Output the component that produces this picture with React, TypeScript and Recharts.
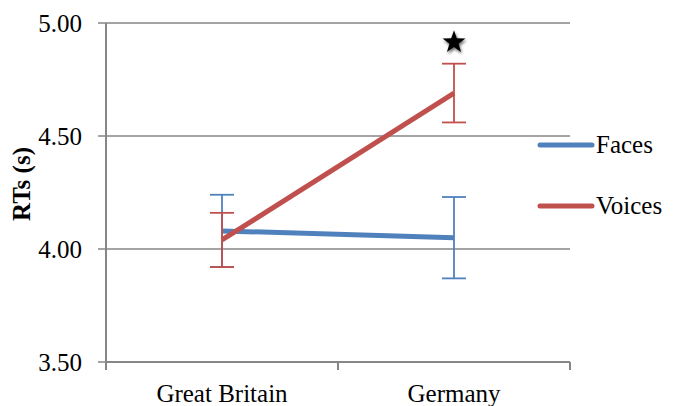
import { CartesianGrid, ErrorBar, Legend, Line, LineChart, ReferenceDot, XAxis, YAxis } from "recharts";

const categories = ["Great Britain", "Germany"];
const faces = [4.08, 4.05];
const facesErr = [0.16, 0.18];
const voices = [4.04, 4.69];
const voicesErr = [0.12, 0.13];
const yTicks = [3.5, 4.0, 4.5, 5.0];
const xTicks = [0, 0.5, 1, 1.5, 2];
const starAt = { x: 1.5, y: 4.915 };

const BLUE = "#4F81BD";
const RED = "#C0504D";
const AXIS = "#868686";
const FONT = "Liberation Serif, Tinos, DejaVu Serif, Times New Roman, serif";

const data = categories.map((name, i) => ({
  x: i + 0.5,
  name,
  faces: faces[i],
  facesErr: facesErr[i],
  voices: voices[i],
  voicesErr: voicesErr[i],
}));

// ticks at 0,1,2 are the category boundaries, 0.5/1.5 carry the labels
function XTick(props: any) {
  const { x, y, payload } = props;
  const v = payload.value;
  if (Number.isInteger(v)) {
    return <line x1={x} x2={x} y1={y} y2={y + 8} stroke={AXIS} strokeWidth={2} />;
  }
  const idx = Math.floor(v);
  return (
    <text x={x} y={y + 40} textAnchor="middle" fontFamily={FONT} fontSize={25} fill="#000">
      {categories[idx]}
    </text>
  );
}

function Star(props: any) {
  const { cx, cy } = props;
  const R = 12;
  const r = 4.8;
  const pts: string[] = [];
  for (let i = 0; i < 10; i++) {
    const a = -Math.PI / 2 + (i * Math.PI) / 5;
    const rr = i % 2 === 0 ? R : r;
    pts.push(`${cx + rr * Math.cos(a)},${cy + rr * Math.sin(a)}`);
  }
  return (
    <g>
      <defs>
        <filter id="starBlur" x="-50%" y="-50%" width="200%" height="200%">
          <feGaussianBlur stdDeviation="1.8" />
        </filter>
      </defs>
      <polygon points={pts.join(" ")} fill="#000" opacity={0.6} filter="url(#starBlur)" transform="translate(1,2)" />
      <polygon points={pts.join(" ")} fill="#000" />
    </g>
  );
}

function LegendBox() {
  const items = [
    { label: "Faces", color: BLUE },
    { label: "Voices", color: RED },
  ];
  return (
    <div>
      {items.map((it) => (
        <div key={it.label} style={{ display: "flex", alignItems: "center", height: 61 }}>
          <svg width={60} height={10}>
            <line x1={4} x2={56} y1={5} y2={5} stroke={it.color} strokeWidth={5} strokeLinecap="round" />
          </svg>
          <span style={{ fontFamily: FONT, fontSize: 25, color: "#000" }}>{it.label}</span>
        </div>
      ))}
    </div>
  );
}

export default function App() {
  return (
    <div style={{ width: 673, height: 406, fontFamily: FONT }}>
      <style>{"body{margin:0}"}</style>
      <LineChart width={673} height={406} data={data} margin={{ top: 23, right: 103, bottom: 0, left: 0 }}>
        <CartesianGrid vertical={false} stroke={AXIS} strokeWidth={1.5} />
        <XAxis
          dataKey="x"
          type="number"
          domain={[0, 2]}
          ticks={xTicks}
          interval={0}
          tickLine={false}
          tickSize={0}
          tickMargin={0}
          height={44}
          axisLine={{ stroke: AXIS, strokeWidth: 2 }}
          tick={<XTick />}
        />
        <YAxis
          type="number"
          domain={[3.5, 5]}
          ticks={yTicks}
          width={106}
          tickSize={8}
          tickMargin={16}
          tickFormatter={(v: number) => v.toFixed(2)}
          tick={{ fontFamily: FONT, fontSize: 25, fill: "#000" }}
          tickLine={{ stroke: AXIS, strokeWidth: 1.5 }}
          axisLine={{ stroke: AXIS, strokeWidth: 2 }}
          label={{
            content: () => (
              <text
                x={21}
                y={184}
                transform="rotate(-90 21 184)"
                textAnchor="middle"
                dominantBaseline="central"
                fontFamily={FONT}
                fontWeight="bold"
                fontSize={25}
                fill="#000"
              >
                RTs (s)
              </text>
            ),
          }}
        />
        <Legend
          layout="vertical"
          align="center"
          verticalAlign="middle"
          wrapperStyle={{ left: 536, top: 114, width: 137 }}
          content={() => <LegendBox />}
        />
        <Line
          dataKey="faces"
          name="Faces"
          stroke={BLUE}
          strokeWidth={5}
          dot={false}
          activeDot={false}
          isAnimationActive={false}
        >
          <ErrorBar dataKey="facesErr" width={12} stroke={BLUE} strokeWidth={1.8} direction="y" />
        </Line>
        <Line
          dataKey="voices"
          name="Voices"
          stroke={RED}
          strokeWidth={5}
          dot={false}
          activeDot={false}
          isAnimationActive={false}
        >
          <ErrorBar dataKey="voicesErr" width={12} stroke={RED} strokeWidth={1.8} direction="y" />
        </Line>
        <ReferenceDot x={starAt.x} y={starAt.y} shape={<Star />} />
      </LineChart>
    </div>
  );
}
